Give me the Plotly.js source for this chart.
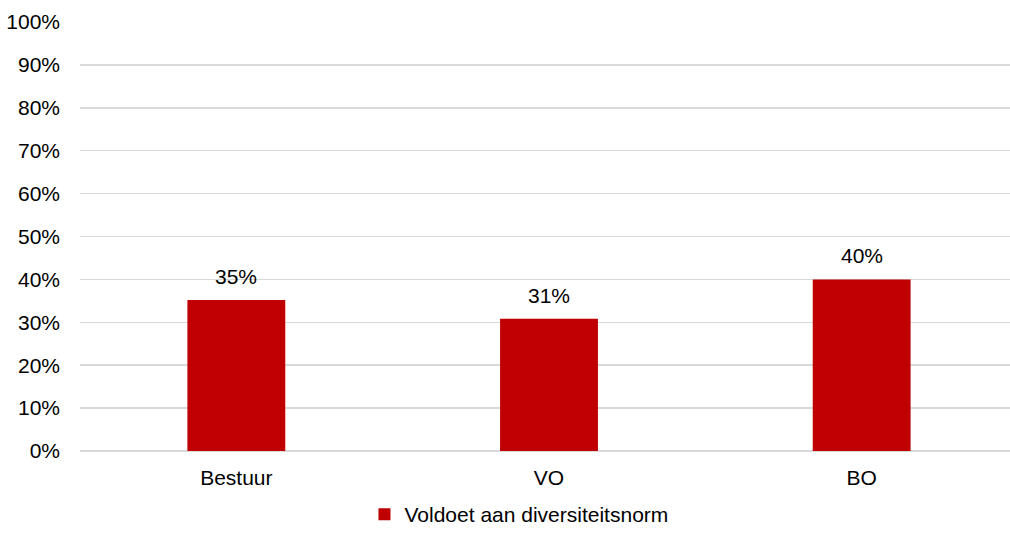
<!DOCTYPE html>
<html>
<head>
<meta charset="utf-8">
<script src="https://cdn.plot.ly/plotly-3.0.1.min.js"></script>
<style>
html,body{margin:0;padding:0;overflow:hidden;background:#fff;}
#chart{width:1020px;height:535px;}
</style>
</head>
<body>
<div id="chart"></div>
<script>
var categories = ["Bestuur", "VO", "BO"];
var values = [0.352, 0.308, 0.40];
var seriesName = "Voldoet aan diversiteitsnorm";
var yTickVals = [0,0.1,0.2,0.3,0.4,0.5,0.6,0.7,0.8,0.9,1.0];
var yTickText = ["0%","10%","20%","30%","40%","50%","60%","70%","80%","90%","100%"];

var FONT = "Liberation Sans, Arial, sans-serif";
var FS = 21;

var trace = {
  type: "bar",
  x: categories,
  y: values,
  name: seriesName,
  marker: {color: "#C00000", line: {width: 0}},
  showlegend: true,
  hoverinfo: "x+y"
};

var annotations = categories.map(function(c, i){
  return {
    x: c, y: values[i], xref: "x", yref: "y",
    text: Math.round(values[i]*100) + "%",
    showarrow: false, yanchor: "bottom", yshift: 10,
    font: {family: FONT, size: FS, color: "#000"}
  };
});

var layout = {
  width: 1020, height: 535,
  margin: {l: 80, r: 2, t: 22, b: 84, autoexpand: false},
  paper_bgcolor: "#fff", plot_bgcolor: "#fff",
  font: {family: FONT, size: FS, color: "#000"},
  bargap: 0.687,
  xaxis: {
    type: "category", automargin: false,
    showgrid: false, zeroline: false, showline: false, ticks: "",
    tickfont: {family: FONT, size: FS, color: "#000"},
    ticklabelstandoff: 12
  },
  yaxis: {
    range: [0, 1], tickvals: yTickVals, ticktext: yTickText, automargin: false,
    showgrid: true, gridcolor: "#d9d9d9", gridwidth: 1.5,
    zeroline: true, zerolinecolor: "#d9d9d9", zerolinewidth: 1.5,
    showline: false, ticks: "",
    tickfont: {family: FONT, size: FS, color: "#000"},
    ticklabelstandoff: 19
  },
  showlegend: true,
  legend: {
    orientation: "h", xref: "paper", x: 0.468, xanchor: "center",
    yref: "container", y: -0.009, yanchor: "bottom",
    borderwidth: 0,
    font: {family: FONT, size: FS, color: "#000"},
    bgcolor: "rgba(0,0,0,0)"
  },
  annotations: annotations
};

Plotly.newPlot("chart", [trace], layout, {displayModeBar: false, staticPlot: true});
</script>
</body>
</html>
